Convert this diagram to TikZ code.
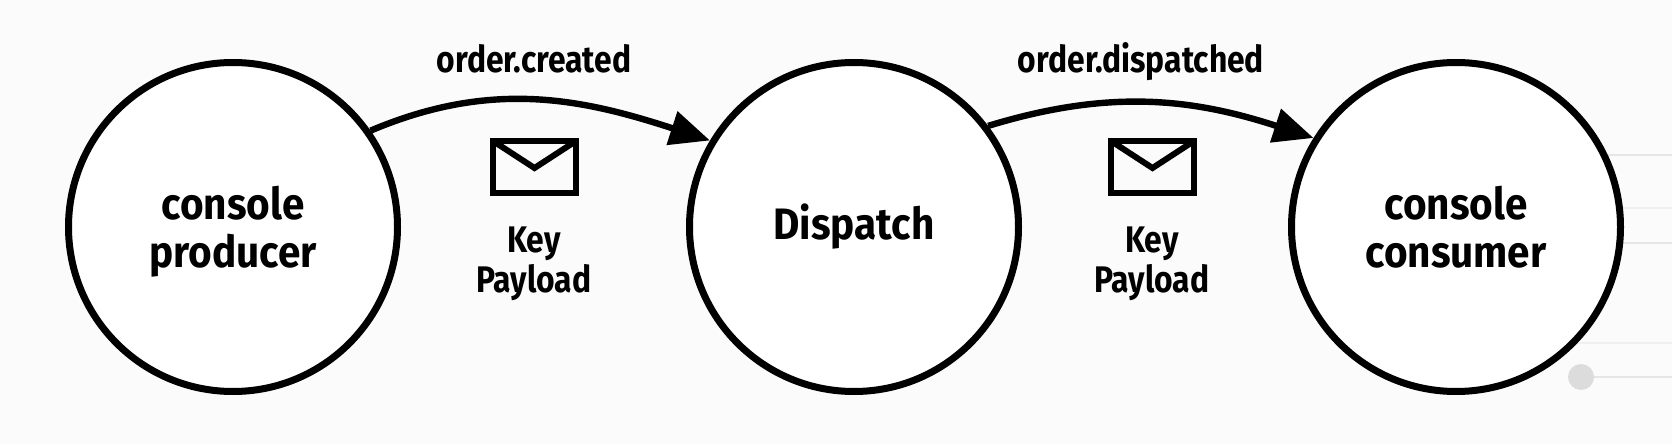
\documentclass[tikz,border=0pt]{standalone}
\usepackage{fontspec}
\setmainfont{Fira Sans}
\newfontfamily\servicefont[FakeStretch=0.92]{Fira Sans}
\newfontfamily\labelfont[FakeStretch=0.86]{Fira Sans}
\usetikzlibrary{arrows.meta}
\definecolor{backcol}{HTML}{FBFBFB}
\definecolor{tracecol}{HTML}{E6E6E6}
\tikzset{
  service/.style={draw, circle, fill=white, line width=3.5pt, minimum size=164.5pt, inner sep=0pt, align=center, font=\servicefont\bfseries\fontsize{22}{24}\selectfont},
  topic/.style={anchor=base, font=\labelfont\bfseries\fontsize{18.5}{20}\selectfont},
  message/.style={align=center, font=\labelfont\bfseries\fontsize{18.5}{20}\selectfont},
  flow/.style={line width=3.2pt, -{Triangle[length=20pt, width=17pt]}},
  envelope/.style={line width=3pt, miter limit=10},
  trace/.style={draw=tracecol, line width=1.2pt},
}
\begin{document}
\begin{tikzpicture}[x=0.5pt, y=-0.5pt]
  \useasboundingbox (0, 0) rectangle (1672, 444);
  \fill[backcol] (0, 0) rectangle (1672, 444);

  % faint lines behind the last circle
  \draw[trace] (1560, 155) -- (1672, 155);
  \draw[trace, opacity=0.5] (1560, 208) -- (1672, 208);
  \draw[trace] (1560, 243) -- (1672, 243);
  \draw[trace, opacity=0.5] (1560, 343) -- (1672, 343);
  \draw[trace] (1581, 377) -- (1672, 377);
  \fill[tracecol!90!gray] (1581, 377) circle (6.5pt);

  \node[service, text depth=0pt] (producer) at (233, 227) {console\\producer};
  \node[service] (dispatch) at (854, 227) {Dispatch};
  \node[service] (consumer) at (1456, 227) {console\\consumer};

  \draw[flow] (producer.35) to[out=23, in=162] (dispatch.149);
  \draw[flow] (dispatch.37) to[out=17, in=162] (consumer.148);

  \node[topic] (created) at (534, 73) {order.created};
  \node[topic] (dispatched) at (1141, 73) {order.dispatched};

  % envelopes
  \draw[envelope] (493, 141) rectangle (576, 193);
  \draw[envelope] (493, 141) -- (534.5, 168) -- (576, 141);
  \draw[envelope] (1111, 141) rectangle (1194, 193);
  \draw[envelope] (1111, 141) -- (1152.5, 168) -- (1194, 141);

  \node[message] (firstmsg) at (534, 264) {Key\\Payload};
  \node[message] (secondmsg) at (1152, 264) {Key\\Payload};
\end{tikzpicture}
\end{document}
